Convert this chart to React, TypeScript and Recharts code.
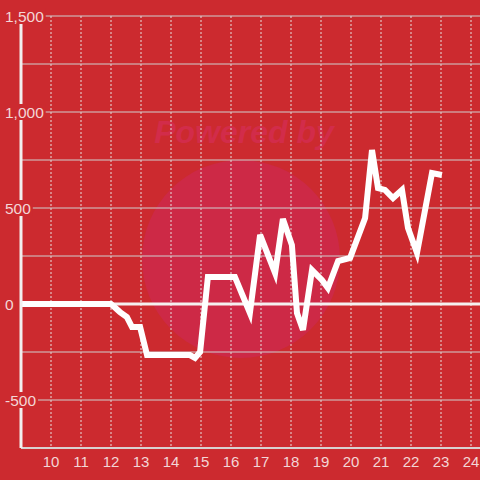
import React from "react";
import {
  LineChart,
  Line,
  XAxis,
  YAxis,
  CartesianGrid,
  ReferenceLine,
} from "recharts";

const times = [
  9.0, 12.0, 12.3, 12.53, 12.7, 12.97, 13.2, 14.63, 14.8, 14.97, 15.23, 16.13,
  16.63, 16.97, 17.47, 17.73, 18.03, 18.2, 18.4, 18.7, 19.03, 19.23, 19.57,
  19.97, 20.47, 20.7, 20.9, 21.13, 21.4, 21.7, 21.9, 22.2, 22.7, 23.03,
];
const values = [
  0, 0, -42, -68, -120, -120, -266, -266, -281, -250, 141, 141, -47, 360, 161,
  443, 307, -47, -135, 177, 125, 83, 224, 240, 448, 802, 604, 594, 552, 594,
  396, 266, 682, 672,
];
const xTicks = [10, 11, 12, 13, 14, 15, 16, 17, 18, 19, 20, 21, 22, 23, 24];
const yTicks = [-500, 0, 500, 1000, 1500];
const yGrid = [-750, -500, -250, 0, 250, 500, 750, 1000, 1250, 1500];

const data = times.map((t, i) => ({ t, v: values[i] }));

const BG = "#cc2a2f";
const TEXT = "#f3d6d6";

const fmt = (v: number) => v.toLocaleString("en-US");

function charWidth(s: string) {
  let w = 0;
  for (const c of s) {
    if (c === ",") w += 4.3;
    else if (c === "-") w += 5.2;
    else w += 8.6;
  }
  return w;
}

const YTick = (props: any) => {
  const { y, payload } = props;
  const label = fmt(payload.value);
  const w = charWidth(label);
  const x0 = 5;
  return (
    <g>
      <rect x={x0 - 2} y={y - 8} width={w + 4} height={16} fill={BG} />
      <text
        x={x0}
        y={y}
        dy="0.36em"
        textAnchor="start"
        fill={TEXT}
        fontSize={15.5}
        fontFamily="Liberation Sans, Arial, sans-serif"
      >
        {label}
      </text>
    </g>
  );
};

export default function App() {
  return (
    <div
      style={{
        position: "absolute",
        left: 0,
        top: 0,
        width: 480,
        height: 480,
        background: BG,
        overflow: "hidden",
      }}
    >
      <svg
        width={480}
        height={480}
        style={{ position: "absolute", left: 0, top: 0 }}
      >
        <circle cx={241} cy={259} r={99} fill="#cd2946" />
        <text
          x={244}
          y={143}
          textAnchor="middle"
          fontSize={32}
          fontWeight="bold"
          fontStyle="italic"
          fill="#d22c4a"
          fontFamily="Liberation Sans, Arial, sans-serif"
        >
          Powered by
        </text>
      </svg>
      <div style={{ position: "absolute", left: 0, top: 0 }}>
        <LineChart
          width={480}
          height={480}
          data={data}
          margin={{ top: 16, right: 0, bottom: 0, left: 0 }}
        >
          <CartesianGrid
            horizontal={false}
            vertical={true}
            stroke="#e6e0e0"
            strokeDasharray="2 2"
            verticalValues={xTicks}
          />
          <CartesianGrid
            horizontal={true}
            vertical={false}
            stroke="#cfcfcf"
            horizontalValues={yGrid}
          />
          <XAxis
            dataKey="t"
            type="number"
            domain={[9, 24.3]}
            ticks={xTicks}
            allowDataOverflow
            height={32}
            tickLine={false}
            axisLine={{ stroke: "#d8d0d0", strokeWidth: 2 }}
            tick={{
              fill: TEXT,
              fontSize: 15,
              fontFamily: "Liberation Sans, Arial, sans-serif",
            }}
          />
          <YAxis
            type="number"
            domain={[-750, 1500]}
            ticks={yTicks}
            width={21}
            tickLine={false}
            axisLine={{ stroke: "#f2eeee", strokeWidth: 3 }}
            tick={<YTick />}
          />
          <ReferenceLine y={0} stroke="#f5f0f0" strokeWidth={3} />
          <Line
            dataKey="v"
            stroke="#ffffff"
            strokeWidth={6}
            dot={false}
            isAnimationActive={false}
            type="linear"
          />
        </LineChart>
      </div>
    </div>
  );
}
